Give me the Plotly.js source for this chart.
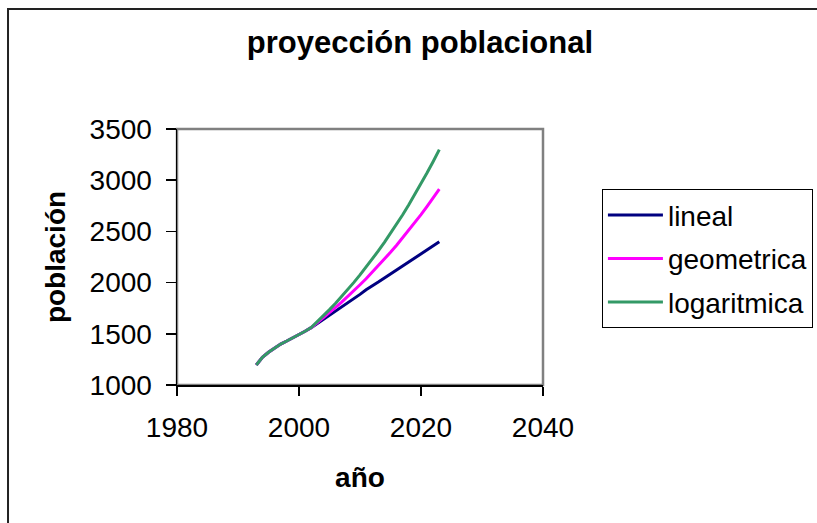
<!DOCTYPE html>
<html>
<head>
<meta charset="utf-8">
<script src="https://cdn.plot.ly/plotly-3.0.1.min.js"></script>
<style>
  html, body { margin: 0; padding: 0; background: #ffffff; }
  #chart { width: 817px; height: 523px; }
</style>
</head>
<body>
<div id="chart"></div>
<script>
// Years of the projection
var years = [1993, 1994, 1995, 1996, 1997, 1998, 1999, 2000, 2001, 2002,
             2003, 2004, 2005, 2006, 2007, 2008, 2009, 2010, 2011, 2012,
             2013, 2014, 2015, 2016, 2017, 2018, 2019, 2020, 2021, 2022, 2023];

// Series values
var lineal = [1195, 1270, 1320, 1360, 1400, 1430, 1460, 1490, 1525, 1560,
              1600, 1640, 1682, 1722, 1765, 1805, 1845, 1885, 1930, 1965,
              2005, 2045, 2085, 2122, 2160, 2200, 2242, 2282, 2320, 2360, 2398];

var geometrica = [1195, 1270, 1320, 1360, 1400, 1430, 1460, 1490, 1525, 1560,
                  1607, 1655, 1705, 1757, 1810, 1864, 1921, 1979, 2038, 2100,
                  2163, 2229, 2296, 2365, 2437, 2510, 2586, 2664, 2745, 2827, 2913];

var logaritmica = [1195, 1270, 1320, 1360, 1400, 1430, 1460, 1490, 1525, 1560,
                   1617, 1675, 1736, 1799, 1864, 1932, 2002, 2075, 2150, 2228,
                   2309, 2393, 2480, 2570, 2663, 2760, 2860, 2964, 3072, 3183, 3299];

var seriesNames = ['lineal', 'geometrica', 'logaritmica'];
var xTicks = [1980, 2000, 2020, 2040];
var yTicks = [1000, 1500, 2000, 2500, 3000, 3500];

var font = 'Arial, "Liberation Sans", Helvetica, sans-serif';

var traces = [
  { x: years, y: lineal, name: seriesNames[0], legendgroup: 'a', mode: 'lines',
    line: { color: '#000080', width: 3 } },
  { x: years, y: geometrica, name: seriesNames[1], legendgroup: 'b', mode: 'lines',
    line: { color: '#FF00FF', width: 3 } },
  { x: years, y: logaritmica, name: seriesNames[2], legendgroup: 'c', mode: 'lines',
    line: { color: '#339966', width: 3 } }
];

var layout = {
  width: 817,
  height: 523,
  margin: { l: 177, r: 274, t: 129, b: 138, pad: 0, autoexpand: false },
  paper_bgcolor: '#ffffff',
  plot_bgcolor: '#ffffff',
  font: { family: font, color: '#000000', size: 28 },
  title: {
    text: '<b>proyección poblacional</b>',
    font: { family: font, size: 31, color: '#000000' },
    x: 0.514, xanchor: 'center', xref: 'container',
    y: 0.92, yanchor: 'middle', yref: 'container'
  },
  xaxis: {
    range: [1980, 2040],
    tickvals: xTicks,
    ticktext: xTicks.map(String),
    ticks: 'outside', ticklen: 9, tickwidth: 1.5, tickcolor: '#000000',
    showline: true, linecolor: '#000000', linewidth: 1.5,
    showgrid: false, zeroline: false,
    tickfont: { family: font, size: 28, color: '#000000' },
    ticklabelstandoff: 8,
    title: { text: '<b>año</b>', font: { family: font, size: 28, color: '#000000' }, standoff: 25 }
  },
  yaxis: {
    range: [1000, 3500],
    tickvals: yTicks,
    ticktext: yTicks.map(String),
    ticks: 'outside', ticklen: 10, tickwidth: 1.5, tickcolor: '#000000',
    showline: true, linecolor: '#000000', linewidth: 1.5,
    showgrid: false, zeroline: false,
    tickfont: { family: font, size: 28, color: '#000000' },
    ticklabelstandoff: 8,
    title: { text: '<b>población</b>', font: { family: font, size: 28, color: '#000000' }, standoff: 16 }
  },
  showlegend: true,
  legend: {
    x: 1.161, xanchor: 'left', xref: 'paper',
    y: 0.764, yanchor: 'top', yref: 'paper',
    bgcolor: '#ffffff',
    bordercolor: '#000000', borderwidth: 1,
    font: { family: font, size: 28, color: '#000000' },
    traceorder: 'grouped',
    tracegroupgap: 4,
    itemwidth: 55
  },
  shapes: [
    { type: 'rect', xref: 'paper', yref: 'paper', x0: 0, x1: 1, y0: 0, y1: 1,
      line: { color: '#808080', width: 2.5 }, layer: 'below' },
    { type: 'rect', xref: 'paper', yref: 'paper', x0: -0.4617, x1: 2.5, y0: -1, y1: 1.4688,
      line: { color: '#222222', width: 2 }, layer: 'below' }
  ]
};

Plotly.newPlot('chart', traces, layout, { displayModeBar: false, staticPlot: true });
</script>
</body>
</html>
